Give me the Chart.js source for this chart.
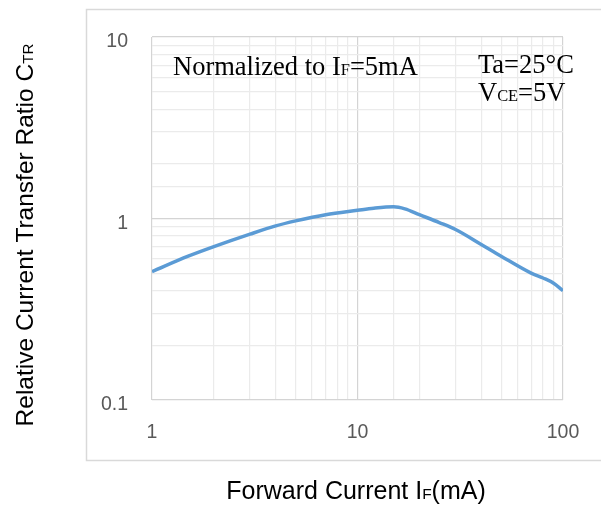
<!DOCTYPE html>
<html>
<head>
<meta charset="utf-8">
<script src="https://cdn.jsdelivr.net/npm/chart.js@4"></script>
<style>
  html, body { margin: 0; padding: 0; background: #fff; }
  #grafico { display: block; }
</style>
</head>
<body>
<canvas id="grafico" width="601" height="509"></canvas>
<script>
// Dados (eixos log-log)
const correnteIF = [1, 1.5, 2, 3, 4, 5, 7, 10, 12, 15, 17, 20, 25, 30, 40, 50, 70, 80, 90, 100];
const ctrRelativo = [0.51, 0.62, 0.70, 0.82, 0.91, 0.97, 1.05, 1.11, 1.14, 1.16, 1.13, 1.05, 0.95, 0.87, 0.72, 0.62, 0.50, 0.47, 0.44, 0.40];
const rotulosX = ['1', '10', '100'];
const rotulosY = ['0.1', '1', '10'];

// Textos (partes com subscrito marcadas com sub: true)
const tituloX = [{ t: 'Forward Current I' }, { t: 'F', sub: true }, { t: '(mA)' }];
const tituloY = [{ t: 'Relative Current Transfer Ratio C' }, { t: 'TR', sub: true }];
const notaNormalizado = [{ t: 'Normalized to I' }, { t: 'F', sub: true }, { t: '=5mA' }];
const notaTa = [{ t: 'Ta=25°C' }];
const notaVce = [{ t: 'V' }, { t: 'CE', sub: true }, { t: '=5V' }];

const FONTE_SANS = "'Liberation Sans', Arial, sans-serif";
const FONTE_SERIF = "'Liberation Serif', 'Times New Roman', serif";

// Mede a largura total de um texto com subscritos
function larguraTexto(ctx, partes, tam, familia) {
  let w = 0;
  partes.forEach(p => {
    ctx.font = `${p.sub ? tam * 0.62 : tam}px ${familia}`;
    w += ctx.measureText(p.t).width;
  });
  return w;
}

function desenharTexto(ctx, partes, x, y, tam, familia) {
  ctx.textBaseline = 'alphabetic';
  ctx.textAlign = 'left';
  let px = x;
  partes.forEach(p => {
    ctx.font = `${p.sub ? tam * 0.62 : tam}px ${familia}`;
    ctx.fillText(p.t, px, y);
    px += ctx.measureText(p.t).width;
  });
}

const pluginMoldura = {
  id: 'moldura',
  beforeDraw(chart) {
    const ctx = chart.ctx;
    ctx.save();
    ctx.fillStyle = '#fff';
    ctx.fillRect(0, 0, chart.width, chart.height);
    ctx.strokeStyle = '#d9d9d9';
    ctx.lineWidth = 1.5;
    ctx.strokeRect(86.5, 9.5, 530, 451);
    ctx.restore();
  },
  afterDraw(chart) {
    const ctx = chart.ctx;
    ctx.save();
    ctx.fillStyle = '#000';

    // Título do eixo X
    const wx = larguraTexto(ctx, tituloX, 25, FONTE_SANS);
    desenharTexto(ctx, tituloX, 356 - wx / 2, 499, 25, FONTE_SANS);

    // Título do eixo Y (rotacionado)
    ctx.save();
    ctx.translate(33, 235);
    ctx.rotate(-Math.PI / 2);
    const wy = larguraTexto(ctx, tituloY, 24.5, FONTE_SANS);
    desenharTexto(ctx, tituloY, -wy / 2, 0, 24.5, FONTE_SANS);
    ctx.restore();

    // Anotações dentro da área do gráfico
    desenharTexto(ctx, notaNormalizado, 173, 75, 26.5, FONTE_SERIF);
    desenharTexto(ctx, notaTa, 478, 73, 26.5, FONTE_SERIF);
    desenharTexto(ctx, notaVce, 478, 101, 26.5, FONTE_SERIF);
    ctx.restore();
  }
};

// Linhas de grade: décadas mais escuras
function corGrade(c) {
  const v = c.tick && c.tick.value;
  if (!v) return '#ebebeb';
  const e = Math.log10(v);
  return Math.abs(e - Math.round(e)) < 1e-6 ? '#d4d4d4' : '#ebebeb';
}

function rotulo(lista) {
  return v => {
    const s = String(+v.toPrecision(3));
    return lista.includes(s) ? s : '';
  };
}

const fonteTicks = { family: FONTE_SANS, size: 19.5 };

new Chart(document.getElementById('grafico'), {
  type: 'line',
  data: {
    datasets: [{
      data: correnteIF.map((x, i) => ({ x, y: ctrRelativo[i] })),
      borderColor: '#5b9bd5',
      borderWidth: 3.5,
      pointRadius: 0,
      tension: 0.35,
      cubicInterpolationMode: 'monotone',
      fill: false
    }]
  },
  options: {
    responsive: false,
    animation: false,
    layout: { padding: { left: 0, right: 38, top: 37, bottom: 0 } },
    plugins: { legend: { display: false }, tooltip: { enabled: false } },
    scales: {
      x: {
        type: 'logarithmic',
        min: 1,
        max: 100,
        afterFit: s => { s.height = 109; },
        grid: { color: corGrade, lineWidth: 1.2, drawTicks: false },
        border: { display: false },
        ticks: {
          autoSkip: false,
          maxRotation: 0,
          padding: 21,
          color: '#595959',
          font: fonteTicks,
          callback: rotulo(rotulosX)
        }
      },
      y: {
        type: 'logarithmic',
        min: 0.1,
        max: 10,
        afterFit: s => { s.width = 152; },
        grid: { color: corGrade, lineWidth: 1.2, drawTicks: false },
        border: { display: false },
        ticks: {
          autoSkip: false,
          padding: 24,
          labelOffset: 5,
          color: '#595959',
          font: fonteTicks,
          callback: rotulo(rotulosY)
        }
      }
    }
  },
  plugins: [pluginMoldura]
});
</script>
</body>
</html>
